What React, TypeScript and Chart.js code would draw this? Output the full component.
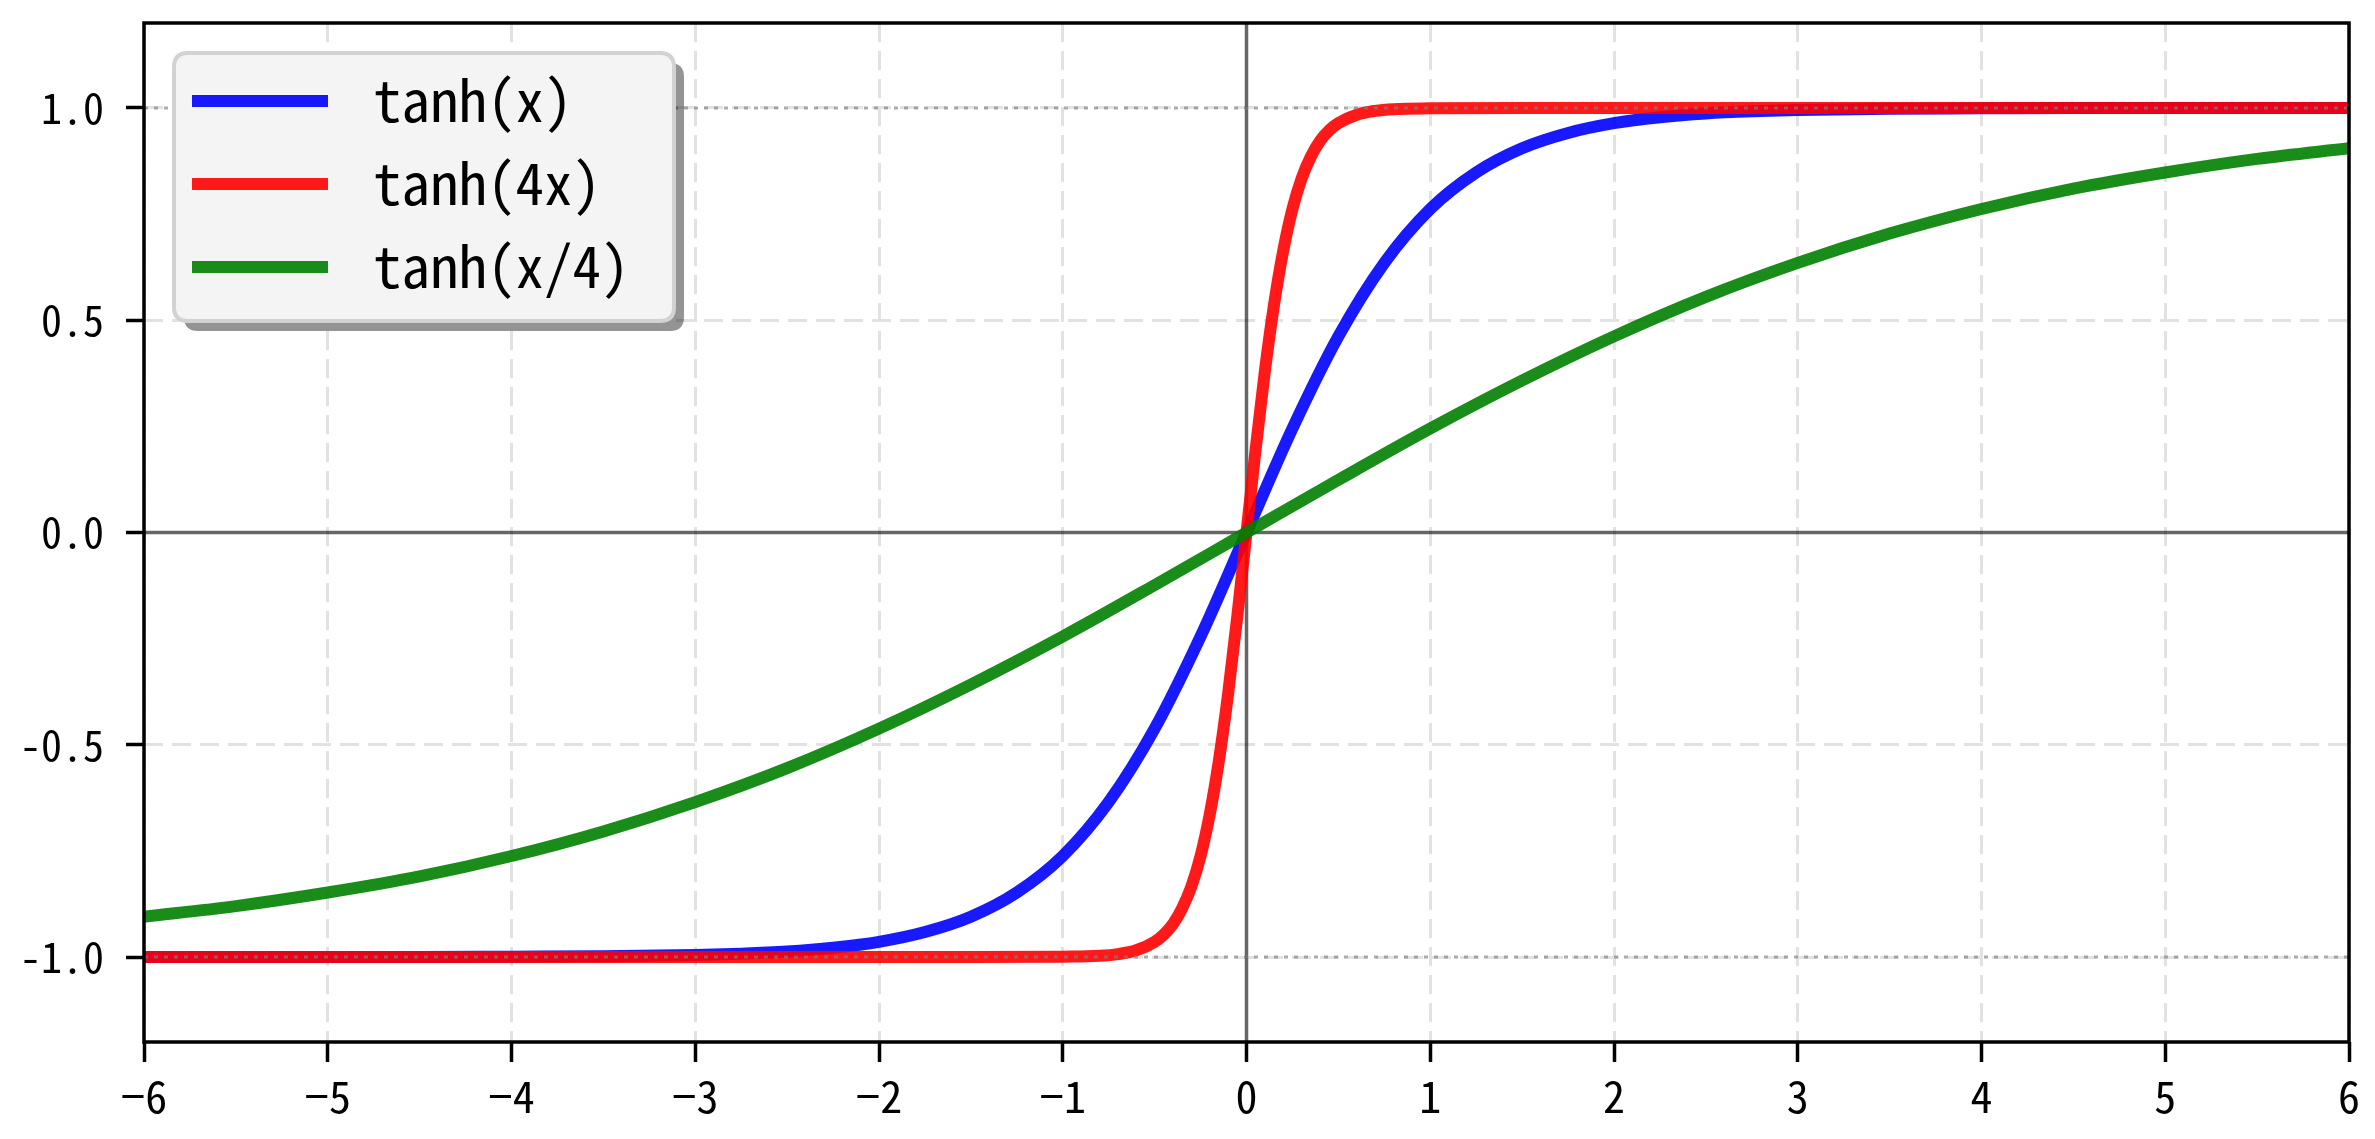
import React, { useEffect, useRef } from "react";
import { Chart, registerables } from "chart.js";

Chart.register(...registerables);

// ---- data ----
const seriesLabels = ["tanh(x)", "tanh(4x)", "tanh(x/4)"];

const xTanh = [-6, -5.5, -5, -4.5, -4, -3.5, -3, -2.75, -2.5, -2.25, -2, -1.75, -1.5, -1.25, -1, -0.75, -0.5, -0.25, 0,
  0.25, 0.5, 0.75, 1, 1.25, 1.5, 1.75, 2, 2.25, 2.5, 2.75, 3, 3.5, 4, 4.5, 5, 5.5, 6];
const yTanh = [-1, -1, -1, -1, -0.999, -0.998, -0.995, -0.992, -0.987, -0.978, -0.964, -0.941, -0.905, -0.848, -0.762, -0.635, -0.462, -0.245, 0,
  0.245, 0.462, 0.635, 0.762, 0.848, 0.905, 0.941, 0.964, 0.978, 0.987, 0.992, 0.995, 0.998, 0.999, 1, 1, 1, 1];

const xTanh4 = [-6, -5, -4, -3, -2, -1.5, -1, -0.8, -0.7, -0.6, -0.5, -0.45, -0.4, -0.35, -0.3, -0.25, -0.2, -0.15, -0.1, -0.05, 0,
  0.05, 0.1, 0.15, 0.2, 0.25, 0.3, 0.35, 0.4, 0.45, 0.5, 0.6, 0.7, 0.8, 1, 1.5, 2, 3, 4, 5, 6];
const yTanh4 = [-1, -1, -1, -1, -1, -1, -0.999, -0.997, -0.993, -0.984, -0.964, -0.947, -0.922, -0.885, -0.834, -0.762, -0.664, -0.537, -0.38, -0.197, 0,
  0.197, 0.38, 0.537, 0.664, 0.762, 0.834, 0.885, 0.922, 0.947, 0.964, 0.984, 0.993, 0.997, 0.999, 1, 1, 1, 1, 1, 1];

const xTanhQ = [-6, -5.5, -5, -4.5, -4, -3.5, -3, -2.5, -2, -1.5, -1, -0.5, 0, 0.5, 1, 1.5, 2, 2.5, 3, 3.5, 4, 4.5, 5, 5.5, 6];
const yTanhQ = [-0.905, -0.88, -0.848, -0.81, -0.762, -0.704, -0.635, -0.555, -0.462, -0.358, -0.245, -0.124, 0,
  0.124, 0.245, 0.358, 0.462, 0.555, 0.635, 0.704, 0.762, 0.81, 0.848, 0.88, 0.905];

const xTicks = [-6, -5, -4, -3, -2, -1, 0, 1, 2, 3, 4, 5, 6];
const yTicks = [-1, -0.5, 0, 0.5, 1];
const refLevels = [-1, 1];

const seriesColors = ["rgba(0,0,255,0.9)", "rgba(255,0,0,0.9)", "rgba(0,128,0,0.9)"];

const FONT = "'Noto Sans Mono CJK SC', 'Noto Sans CJK SC', 'DejaVu Sans Mono', sans-serif";

const toPts = (xs: number[], ys: number[]) => xs.map((x, i) => ({ x, y: ys[i] }));

const roundRect = (ctx: CanvasRenderingContext2D, x: number, y: number, w: number, h: number, r: number) => {
  ctx.beginPath();
  ctx.moveTo(x + r, y);
  ctx.lineTo(x + w - r, y);
  ctx.quadraticCurveTo(x + w, y, x + w, y + r);
  ctx.lineTo(x + w, y + h - r);
  ctx.quadraticCurveTo(x + w, y + h, x + w - r, y + h);
  ctx.lineTo(x + r, y + h);
  ctx.quadraticCurveTo(x, y + h, x, y + h - r);
  ctx.lineTo(x, y + r);
  ctx.quadraticCurveTo(x, y, x + r, y);
  ctx.closePath();
};

const decorPlugin = {
  id: "decor",
  beforeDatasetsDraw(chart: any) {
    const { ctx, chartArea: a, scales } = chart;
    const x0 = scales.x.getPixelForValue(0);
    const y0 = scales.y.getPixelForValue(0);
    ctx.save();
    ctx.strokeStyle = "rgba(0,0,0,0.6)";
    ctx.lineWidth = 3.5;
    ctx.beginPath();
    ctx.moveTo(x0, a.top);
    ctx.lineTo(x0, a.bottom);
    ctx.moveTo(a.left, y0);
    ctx.lineTo(a.right, y0);
    ctx.stroke();
    ctx.restore();
  },
  afterDatasetsDraw(chart: any) {
    const { ctx, chartArea: a, scales } = chart;
    ctx.save();
    ctx.strokeStyle = "rgba(128,128,128,0.65)";
    ctx.lineWidth = 3;
    ctx.setLineDash([4, 6]);
    refLevels.forEach((v) => {
      const y = scales.y.getPixelForValue(v);
      ctx.beginPath();
      ctx.moveTo(a.left, y);
      ctx.lineTo(a.right, y);
      ctx.stroke();
    });
    ctx.setLineDash([]);
    ctx.strokeStyle = "#000";
    ctx.lineWidth = 3.5;
    ctx.strokeRect(a.left, a.top, a.right - a.left, a.bottom - a.top);
    ctx.restore();
  },
  afterDraw(chart: any) {
    const { ctx, chartArea: a } = chart;
    const bx = a.left + 30;
    const by = a.top + 30;
    const bw = 500;
    const bh = 268;
    ctx.save();
    ctx.fillStyle = "rgba(0,0,0,0.42)";
    roundRect(ctx, bx + 10, by + 10, bw, bh, 14);
    ctx.fill();
    ctx.fillStyle = "#f4f4f4";
    roundRect(ctx, bx, by, bw, bh, 14);
    ctx.fill();
    ctx.strokeStyle = "#d2d2d2";
    ctx.lineWidth = 4;
    ctx.stroke();
    chart.data.datasets.forEach((ds: any, i: number) => {
      const ly = by + 48 + i * 83;
      ctx.strokeStyle = ds.borderColor;
      ctx.lineWidth = 12;
      ctx.beginPath();
      ctx.moveTo(bx + 18, ly);
      ctx.lineTo(bx + 154, ly);
      ctx.stroke();
      ctx.fillStyle = "#000";
      ctx.font = `57px ${FONT}`;
      ctx.textBaseline = "middle";
      ctx.textAlign = "left";
      ctx.fillText(ds.label, bx + 199, ly - 1);
    });
    ctx.restore();
  },
};

export default function App() {
  const ref = useRef<HTMLCanvasElement | null>(null);
  useEffect(() => {
    if (!ref.current) return;
    const gridColor = (c: any) => (c.tick && c.tick.value === 0 ? "rgba(0,0,0,0)" : "#e2e2e2");
    const chart = new Chart(ref.current, {
      type: "line",
      data: {
        datasets: [
          { label: seriesLabels[0], data: toPts(xTanh, yTanh), borderColor: seriesColors[0], order: 3 },
          { label: seriesLabels[1], data: toPts(xTanh4, yTanh4), borderColor: seriesColors[1], order: 2 },
          { label: seriesLabels[2], data: toPts(xTanhQ, yTanhQ), borderColor: seriesColors[2], order: 1 },
        ].map((d) => ({
          ...d,
          borderWidth: 12,
          pointRadius: 0,
          fill: false,
          cubicInterpolationMode: "monotone" as const,
          borderCapStyle: "butt" as const,
        })),
      },
      options: {
        animation: false,
        responsive: false,
        devicePixelRatio: 1,
        layout: { padding: { left: 0, right: 26, top: 23, bottom: 0 } },
        plugins: { legend: { display: false }, tooltip: { enabled: false } },
        scales: {
          x: {
            type: "linear",
            min: -6,
            max: 6,
            afterBuildTicks: (s: any) => {
              s.ticks = xTicks.map((v) => ({ value: v }));
            },
            afterFit: (s: any) => {
              s.height = 97;
              s.paddingLeft = 0;
              s.paddingRight = 0;
            },
            grid: { color: gridColor, lineWidth: 3, drawTicks: true, tickLength: 20, tickWidth: 3.5, tickColor: "#000" },
            border: { display: false, dash: [19, 9] },
            ticks: {
              color: "#000",
              padding: 8,
              maxRotation: 0,
              autoSkip: false,
              font: { family: FONT, size: 44 },
              callback: (v: any) => (v < 0 ? "\u2212" + Math.abs(v) : String(v)),
            },
          },
          y: {
            type: "linear",
            min: -1.2,
            max: 1.2,
            afterBuildTicks: (s: any) => {
              s.ticks = yTicks.map((v) => ({ value: v }));
            },
            afterFit: (s: any) => {
              s.width = 144;
              s.paddingTop = 0;
              s.paddingBottom = 0;
            },
            grid: { color: gridColor, lineWidth: 3, drawTicks: true, tickLength: 18, tickWidth: 3.5, tickColor: "#000" },
            border: { display: false, dash: [19, 9] },
            ticks: {
              color: "#000",
              padding: 22,
              autoSkip: false,
              font: { family: FONT, size: 42 },
              callback: (v: any) => Number(v).toFixed(1),
            },
          },
        },
      },
      plugins: [decorPlugin],
    });
    return () => chart.destroy();
  }, []);
  return (
    <div style={{ position: "fixed", left: 0, top: 0, width: 2375, height: 1139, background: "#fff" }}>
      <canvas ref={ref} width={2375} height={1139} style={{ display: "block", width: 2375, height: 1139 }} />
    </div>
  );
}
